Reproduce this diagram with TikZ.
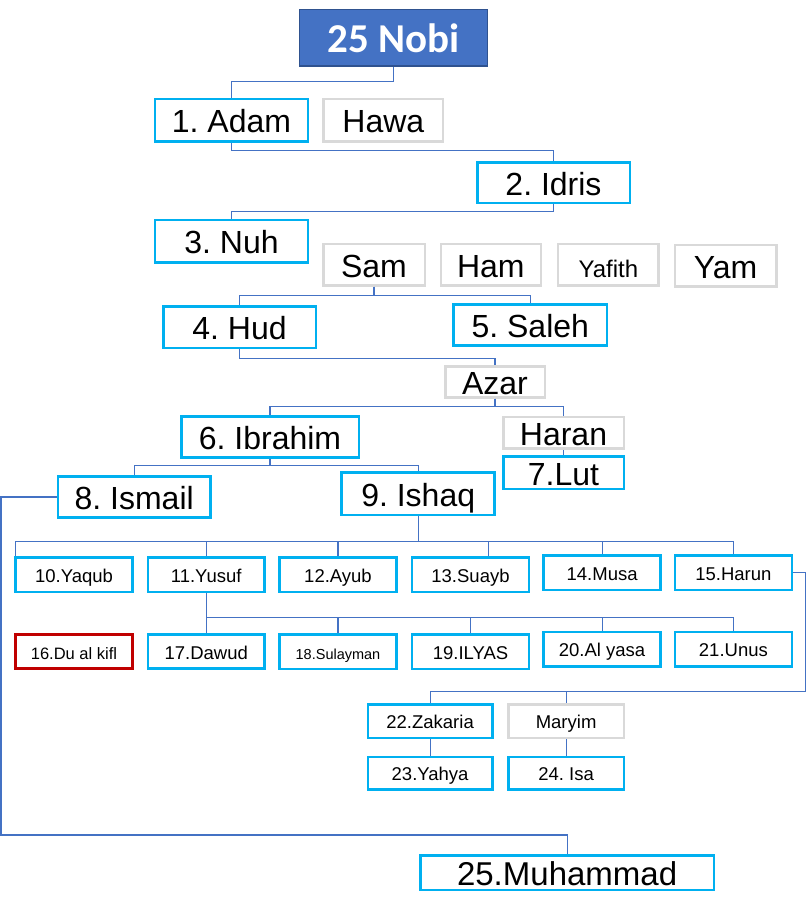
\documentclass[tikz,border=0pt]{standalone}
\usepackage{fontspec}
\setmainfont{Liberation Sans}
\newfontfamily\titlefont{Carlito}
\usetikzlibrary{positioning}
\definecolor{nabicyan}{HTML}{00B0F0}
\definecolor{kingray}{HTML}{D9D9D9}
\definecolor{kiflred}{HTML}{C00000}
\definecolor{linkblue}{HTML}{4472C4}
\definecolor{titleedge}{HTML}{2F528F}
\tikzset{
  nabi/.style={draw=nabicyan,line width=2.5pt,inner sep=0pt,fill=white},
  kin/.style={nabi,draw=kingray},
  big/.style={font=\fontsize{32}{38}\selectfont,text height=25pt,text depth=0pt,
    minimum width=153pt,minimum height=41.5pt},
  row/.style={font=\fontsize{18.5}{22}\selectfont,text height=15pt,text depth=0pt,
    minimum width=116.8pt,minimum height=34.2pt},
  link/.style={draw=linkblue,line width=1.1pt}
}
\frenchspacing
\begin{document}
\begin{tikzpicture}[x=1pt,y=-1pt]
  \useasboundingbox (0,0) rectangle (806,914);
  % title
  \node(nobi)[fill=linkblue,draw=titleedge,line width=1.5pt,text=white,
    font=\titlefont\bfseries\fontsize{41}{48}\selectfont,text height=29pt,text depth=0pt,
    minimum width=188pt,minimum height=56.5pt] at (393.3,37.5) {25 Nobi};
  % Adam to Nuh
  \node(adam)[nabi,big,minimum height=42.5pt] at (231.5,120.2) {1. Adam};
  \node(hawa)[kin,big,minimum width=119.5pt,minimum height=42.5pt] at (383.3,120.2) {Hawa};
  \node(idris)[nabi,big,minimum width=152.5pt,minimum height=40.8pt] at (553.5,182.7) {2. Idris};
  \node(nuh)[nabi,big,minimum height=42.2pt] at (231.5,241.3) {3. Nuh};
  \node(sam)[kin,big,minimum width=101.5pt] at (374,264.7) {Sam};
  \node(ham)[kin,big,minimum width=99.9pt] at (490.8,264.7) {Ham};
  \node(yafith)[kin,big,minimum width=100.5pt,font=\fontsize{24}{28}\selectfont] at (608.4,264.7) {Yafith};
  \node(yam)[kin,big,minimum width=101.5pt] at (725.5,265.7) {Yam};
  % Hud to Ishaq
  \node(hud)[nabi,big,minimum width=152.5pt] at (239.5,327) {4. Hud};
  \node(saleh)[nabi,big,minimum width=153.3pt,minimum height=40.9pt] at (530.3,325) {5. Saleh};
  \node(azar)[kin,big,minimum width=99.5pt,minimum height=30.9pt] at (495,382) {Azar};
  \node(ibrahim)[nabi,big,minimum width=177.5pt,minimum height=40.9pt] at (270,437) {6. Ibrahim};
  \node(haran)[kin,big,minimum width=120.5pt,minimum height=31.8pt] at (563.5,432.8) {Haran};
  \node(lut)[nabi,big,minimum width=120.5pt,minimum height=32.5pt] at (563.5,472.5) {7.Lut};
  \node(ismail)[nabi,big,minimum width=152.7pt,minimum height=40.9pt] at (134.2,497) {8. Ismail};
  \node(ishaq)[nabi,big,minimum height=42.2pt] at (418.2,493.7) {9. Ishaq};
  % children of Ishaq
  \node(yaqub)[nabi,row] at (74,574.7) {10.Yaqub};
  \node(yusuf)[nabi,row] at (206.2,574.7) {11.Yusuf};
  \node(ayub)[nabi,row] at (338,574.7) {12.Ayub};
  \node(suayb)[nabi,row] at (470.5,574.7) {13.Suayb};
  \node(musa)[nabi,row] at (602.1,572.7) {14.Musa};
  \node(harun)[nabi,row] at (733.4,572.7) {15.Harun};
  \node(dulkifl)[nabi,row,draw=kiflred,font=\fontsize{16.5}{20}\selectfont] at (74,651.5) {16.Du al kifl};
  \node(dawud)[nabi,row] at (206.2,651.5) {17.Dawud};
  \node(sulayman)[nabi,row,font=\fontsize{14.5}{18}\selectfont] at (338,651.8) {18.Sulayman};
  \node(ilyas)[nabi,row] at (470.5,651.8) {19.ILYAS};
  \node(alyasa)[nabi,row] at (602.1,649.3) {20.Al yasa};
  \node(unus)[nabi,row] at (733.4,649.3) {21.Unus};
  \node(zakaria)[nabi,row,minimum width=124.5pt,minimum height=33.5pt] at (430.1,721.3) {22.Zakaria};
  \node(maryim)[kin,row,minimum width=115.7pt,minimum height=33.5pt] at (566.1,721.3) {Maryim};
  \node(yahya)[nabi,row,minimum width=124.5pt,minimum height=32.8pt] at (430.1,773.3) {23.Yahya};
  \node(isa)[nabi,row,minimum width=115.7pt,minimum height=32.8pt] at (566.1,773.3) {24. Isa};
  \node(muhammad)[nabi,big,font=\fontsize{33}{38}\selectfont,minimum width=293.7pt,
    minimum height=34.2pt] at (567.1,872.7) {25.Muhammad};
  % links
  \draw[link] (nobi.south) -- ++(0,15) -| (adam.north);
  \draw[link] (adam.south) -- ++(0,8) -| (idris.north);
  \draw[link] (idris.south) -- ++(0,7.5) -| (nuh.north);
  \foreach \n in {hud,saleh}
    \draw[link] (sam.south) -- ++(0,9) -| (\n.north);
  \draw[link] (hud.south) -- ++(0,9.3) -| (azar.north);
  \foreach \n in {ibrahim,haran}
    \draw[link] (azar.south) -- ++(0,7.6) -| (\n.north);
  \draw[link] (haran) -- (lut);
  \foreach \n in {ismail,ishaq}
    \draw[link] (ibrahim.south) -- ++(0,6.5) -| (\n.north);
  \draw[link] (ishaq.south) -- ++(0,25) -| ([xshift=1pt]yaqub.north west);
  \draw[link] (ishaq.south) -- ++(0,25) -| ([xshift=18pt]suayb.north);
  \foreach \n in {yusuf,ayub,musa,harun}
    \draw[link] (ishaq.south) -- ++(0,25) -| (\n.north);
  \foreach \n in {dawud,sulayman,ilyas,alyasa,unus}
    \draw[link] (yusuf.south) -- ++(0,24.5) -| (\n.north);
  \draw[link] (harun.east) -- ++(12,0) coordinate (h1) -- (h1 |- 0,691.3) coordinate (h2) -| (zakaria.north);
  \draw[link] (h2) -| (maryim.north);
  \draw[link] (zakaria) -- (yahya);
  \draw[link] (maryim) -- (isa);
  \draw[link] (ismail.west) -- (1,497) |- (muhammad.north |- 0,835) -- (muhammad.north);
\end{tikzpicture}
\end{document}
